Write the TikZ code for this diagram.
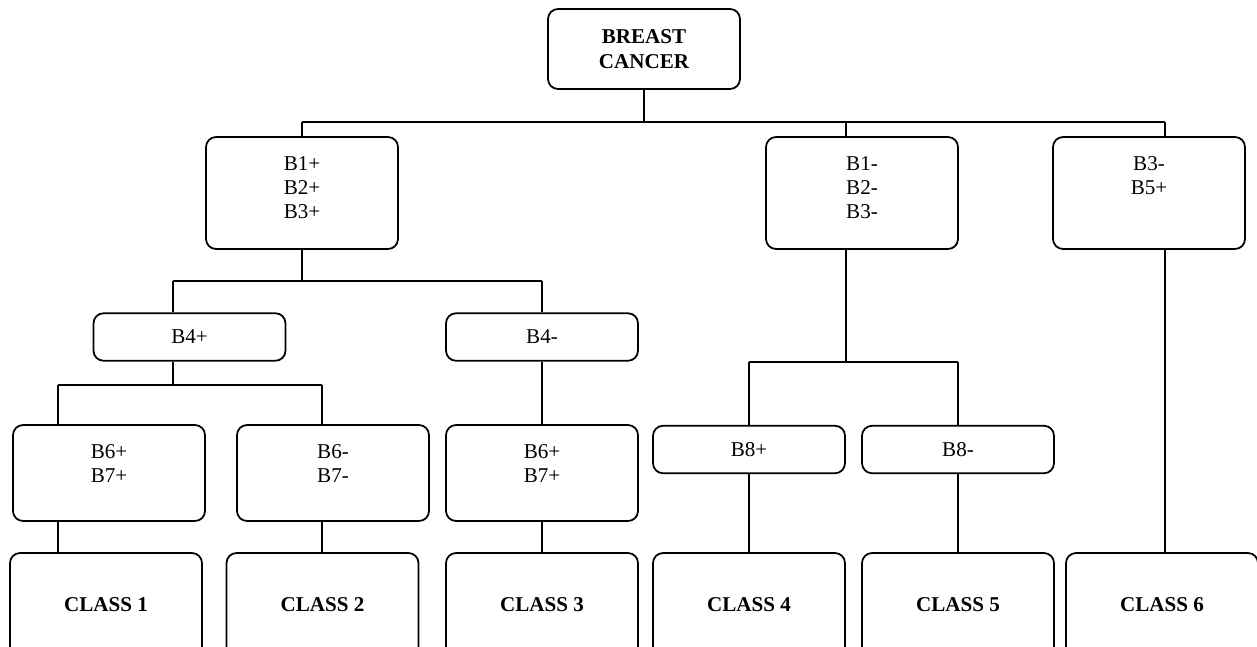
\documentclass[tikz,border=0pt]{standalone}
\usepackage{fontspec}
\setmainfont{Liberation Serif}
\usetikzlibrary{positioning}

\begin{document}
\begin{tikzpicture}[
    x=0.02cm, y=-0.02cm,
    every node/.style={font=\fontsize{12pt}{13.5pt}\selectfont},
    box/.style={rectangle, draw, line width=1pt, rounded corners=0.2cm, minimum width=3.84cm, inner sep=0pt, align=center},
    head/.style={box, minimum height=1.6cm, font=\fontsize{12pt}{14.2pt}\selectfont\bfseries},
    group/.style={box, minimum height=2.24cm},
    pair/.style={box, minimum height=1.92cm},
    single/.style={box, minimum height=0.95cm},
    leaf/.style={box, minimum height=2.08cm, font=\fontsize{12pt}{14pt}\selectfont\bfseries},
    txt/.style={inner sep=0pt, align=center},
    link/.style={line width=1pt}
]
\useasboundingbox (0,0) rectangle (1257,646);

\node[head] (cancer) at (644,49) {BREAST\\CANCER};

\node[group] (b123p) at (302,193) {};
\node[txt, below=0.41cm of b123p.north] (b123p-t) {B1+\\B2+\\B3+};
\node[group] (b123m) at (862,193) {};
\node[txt, below=0.41cm of b123m.north] (b123m-t) {B1-\\B2-\\B3-};
\node[group] (b35) at (1149,193) {};
\node[txt, below=0.41cm of b35.north] (b35-t) {B3-\\B5+};

\node[single] (b4p) at (189.5,337) {B4+};
\node[single] (b4m) at (542,337) {B4-};
\node[single] (b8p) at (749,449.5) {B8+};
\node[single] (b8m) at (958,449.5) {B8-};

\node[pair] (b67p) at (109,473) {};
\node[txt, below=0.4cm of b67p.north] (b67p-t) {B6+\\B7+};
\node[pair] (b67m) at (333,473) {};
\node[txt, below=0.4cm of b67m.north] (b67m-t) {B6-\\B7-};
\node[pair] (b67q) at (542,473) {};
\node[txt, below=0.4cm of b67q.north] (b67q-t) {B6+\\B7+};

\node[leaf] (c1) at (106,605) {CLASS 1};
\node[leaf] (c2) at (322.5,605) {CLASS 2};
\node[leaf] (c3) at (542,605) {CLASS 3};
\node[leaf] (c4) at (749,605) {CLASS 4};
\node[leaf] (c5) at (958,605) {CLASS 5};
\node[leaf] (c6) at (1162,605) {CLASS 6};

\coordinate (t1) at (302,122);
\coordinate (t2) at (846,122);
\coordinate (t3) at (1165,122);
\coordinate (u1) at (173,281);
\coordinate (u2) at (542,281);
\coordinate (v1) at (58,385);
\coordinate (v2) at (322,385);
\coordinate (w0) at (846,362);
\coordinate (w1) at (749,362);
\coordinate (w2) at (958,362);

\draw[link] (cancer) -- (cancer |- t1);
\draw[link] (t1) -- (t3);
\draw[link] (t1) -- (t1 |- b123p.north);
\draw[link] (t2) -- (t2 |- b123m.north);
\draw[link] (t3) -- (t3 |- b35.north);

\draw[link] (b123p) -- (b123p |- u1);
\draw[link] (u1) -- (u2);
\draw[link] (u1) -- (u1 |- b4p.north);
\draw[link] (u2) -- (b4m);
\draw[link] (u1 |- b4p.south) -- (u1 |- v1);
\draw[link] (v1) -- (v2);
\draw[link] (v1) -- (v1 |- b67p.north);
\draw[link] (v2) -- (v2 |- b67m.north);
\draw[link] (b4m) -- (b67q);
\draw[link] (v1 |- b67p.south) -- (v1 |- c1.north);
\draw[link] (v2 |- b67m.south) -- (v2 |- c2.north);
\draw[link] (b67q) -- (c3);

\draw[link] (t2 |- b123m.south) -- (w0);
\draw[link] (w1) -- (w2);
\draw[link] (w1) -- (b8p);
\draw[link] (w2) -- (b8m);
\draw[link] (b8p) -- (c4);
\draw[link] (b8m) -- (c5);

\draw[link] (t3 |- b35.south) -- (t3 |- c6.north);
\end{tikzpicture}
\end{document}
